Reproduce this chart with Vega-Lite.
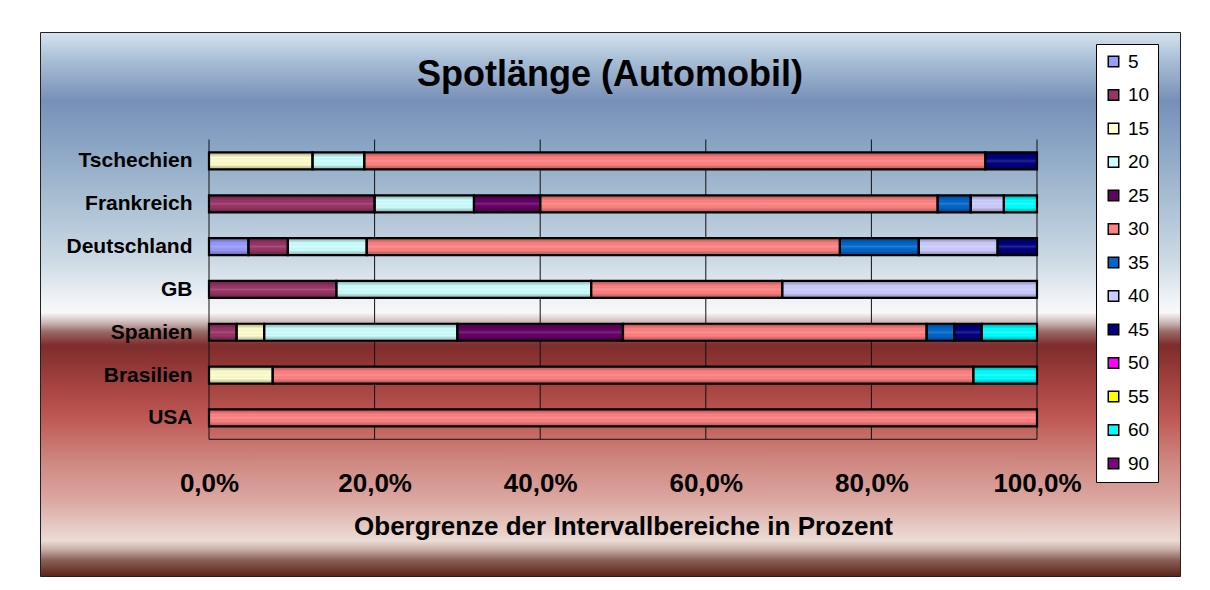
{
  "$schema": "https://vega.github.io/schema/vega-lite/v6.json",
  "width": 1140,
  "height": 544,
  "autosize": {"type": "none"},
  "padding": {"left": 40, "top": 32, "right": 30, "bottom": 14},
  "background": "white",
  "title": {"text": "Spotlänge (Automobil)", "anchor": "middle", "offset": -62, "fontSize": 36, "font": "Liberation Sans", "fontWeight": "bold", "color": "black"},
  "config": {
    "view": {
      "fill": {
        "gradient": "linear", "x1": 0, "y1": 0, "x2": 0, "y2": 1,
        "stops": [
          {"offset": 0, "color": "#d6e3ef"},
          {"offset": 0.05, "color": "#a9bfd6"},
          {"offset": 0.125, "color": "#7890b8"},
          {"offset": 0.2, "color": "#88a3c3"},
          {"offset": 0.31, "color": "#a9bfd3"},
          {"offset": 0.42, "color": "#cddae5"},
          {"offset": 0.49, "color": "#eef2f6"},
          {"offset": 0.515, "color": "#f8f8fa"},
          {"offset": 0.535, "color": "#c8b0b0"},
          {"offset": 0.55, "color": "#9a6a68"},
          {"offset": 0.575, "color": "#7e2c2c"},
          {"offset": 0.64, "color": "#a0403e"},
          {"offset": 0.713, "color": "#c05a56"},
          {"offset": 0.787, "color": "#cf8680"},
          {"offset": 0.86, "color": "#dca7a2"},
          {"offset": 0.934, "color": "#ebdcd5"},
          {"offset": 0.95, "color": "#c8b0a8"},
          {"offset": 0.97, "color": "#8a6058"},
          {"offset": 1, "color": "#5a2418"}
        ]
      },
      "stroke": "#222",
      "strokeWidth": 1
    },
    "axis": {"labelFont": "Liberation Sans", "titleFont": "Liberation Sans", "labelColor": "black", "titleColor": "black"}
  },
  "datasets": {
    "bars": [
      {"land": "Tschechien", "i": 0, "k": 15, "p": 12.5},
      {"land": "Tschechien", "i": 0, "k": 20, "p": 6.25},
      {"land": "Tschechien", "i": 0, "k": 30, "p": 75},
      {"land": "Tschechien", "i": 0, "k": 45, "p": 6.25},
      {"land": "Frankreich", "i": 1, "k": 10, "p": 20},
      {"land": "Frankreich", "i": 1, "k": 20, "p": 12},
      {"land": "Frankreich", "i": 1, "k": 25, "p": 8},
      {"land": "Frankreich", "i": 1, "k": 30, "p": 48},
      {"land": "Frankreich", "i": 1, "k": 35, "p": 4},
      {"land": "Frankreich", "i": 1, "k": 40, "p": 4},
      {"land": "Frankreich", "i": 1, "k": 60, "p": 4},
      {"land": "Deutschland", "i": 2, "k": 5, "p": 4.76},
      {"land": "Deutschland", "i": 2, "k": 10, "p": 4.76},
      {"land": "Deutschland", "i": 2, "k": 20, "p": 9.52},
      {"land": "Deutschland", "i": 2, "k": 30, "p": 57.14},
      {"land": "Deutschland", "i": 2, "k": 35, "p": 9.52},
      {"land": "Deutschland", "i": 2, "k": 40, "p": 9.52},
      {"land": "Deutschland", "i": 2, "k": 45, "p": 4.76},
      {"land": "GB", "i": 3, "k": 10, "p": 15.38},
      {"land": "GB", "i": 3, "k": 20, "p": 30.77},
      {"land": "GB", "i": 3, "k": 30, "p": 23.08},
      {"land": "GB", "i": 3, "k": 40, "p": 30.77},
      {"land": "Spanien", "i": 4, "k": 10, "p": 3.33},
      {"land": "Spanien", "i": 4, "k": 15, "p": 3.33},
      {"land": "Spanien", "i": 4, "k": 20, "p": 23.33},
      {"land": "Spanien", "i": 4, "k": 25, "p": 20},
      {"land": "Spanien", "i": 4, "k": 30, "p": 36.67},
      {"land": "Spanien", "i": 4, "k": 35, "p": 3.33},
      {"land": "Spanien", "i": 4, "k": 45, "p": 3.33},
      {"land": "Spanien", "i": 4, "k": 60, "p": 6.67},
      {"land": "Brasilien", "i": 5, "k": 15, "p": 7.69},
      {"land": "Brasilien", "i": 5, "k": 30, "p": 84.62},
      {"land": "Brasilien", "i": 5, "k": 60, "p": 7.69},
      {"land": "USA", "i": 6, "k": 30, "p": 100}
    ],
    "grid": [{"g": 0}, {"g": 0.2}, {"g": 0.4}, {"g": 0.6}, {"g": 0.8}, {"g": 1}]
  },
  "layer": [
    {
      "data": {"name": "grid"},
      "mark": {"type": "rule", "color": "#111", "strokeWidth": 1},
      "encoding": {
        "x": {"field": "g", "type": "quantitative", "scale": {"domain": [-0.20411, 1.17271], "nice": false, "zero": false}},
        "y": {"datum": -0.5, "type": "quantitative"},
        "y2": {"datum": 6.5}
      }
    },
    {
      "data": {"values": [{"a": 1}]},
      "mark": {"type": "rule", "color": "#111", "strokeWidth": 1},
      "encoding": {
        "x": {"datum": 0, "type": "quantitative"},
        "x2": {"datum": 1},
        "y": {"datum": 6.5, "type": "quantitative"}
      }
    },
    {
      "data": {"name": "bars"},
      "mark": {"type": "bar", "orient": "horizontal", "size": 17},
      "encoding": {
        "x": {
          "field": "p", "type": "quantitative", "stack": "normalize",
          "scale": {"domain": [-0.20411, 1.17271], "nice": false, "zero": false},
          "axis": {
            "values": [0, 0.2, 0.4, 0.6, 0.8, 1],
            "labelExpr": "replace(format(datum.value, '.1%'), '.', ',')",
            "offset": -135, "grid": false, "domain": false, "ticks": false, "tickSize": 0,
            "labelPadding": 29, "labelFontSize": 26, "labelFontWeight": "bold",
            "title": "Obergrenze der Intervallbereiche in Prozent",
            "titleFontSize": 26, "titleFontWeight": "bold", "titlePadding": 17, "titleX": 583
          }
        },
        "y": {
          "field": "i", "type": "quantitative",
          "scale": {"domain": [-2.895, 9.576], "reverse": true, "nice": false, "zero": false},
          "axis": {
            "values": [0, 1, 2, 3, 4, 5, 6],
            "labelExpr": "['Tschechien','Frankreich','Deutschland','GB','Spanien','Brasilien','USA'][datum.value]",
            "offset": -169, "grid": false, "domain": false, "ticks": false, "tickSize": 0,
            "labelPadding": 17, "labelFontSize": 21, "labelFontWeight": "bold", "title": null
          }
        },
        "color": {
          "field": "k", "type": "ordinal",
          "scale": {
            "domain": [5, 10, 15, 20, 25, 30, 35, 40, 45, 50, 55, 60, 90],
            "range": ["#9999FF", "#993366", "#FFFFCC", "#CCFFFF", "#660066", "#FF8080", "#0066CC", "#CCCCFF", "#000080", "#FF00FF", "#FFFF00", "#00FFFF", "#800080"]
          },
          "legend": {
            "orient": "none", "legendX": 1056, "legendY": 12, "direction": "vertical",
            "title": null, "symbolType": "square", "symbolSize": 110,
            "symbolStrokeColor": "black", "symbolStrokeWidth": 1.5, "symbolOpacity": 1,
            "labelFont": "Liberation Sans", "labelFontSize": 19, "labelColor": "black",
            "labelOffset": 5, "rowPadding": 13.5, "padding": 8,
            "fillColor": "white", "strokeColor": "black", "cornerRadius": 0
          }
        },
        "order": {"field": "k", "type": "quantitative"}
      }
    },
    {
      "data": {"name": "bars"},
      "mark": {
        "type": "bar", "orient": "horizontal", "size": 17, "stroke": "black", "strokeWidth": 2.2,
        "color": {
          "gradient": "linear", "x1": 0, "y1": 0, "x2": 0, "y2": 1,
          "stops": [
            {"offset": 0, "color": "rgba(0,0,0,0.35)"},
            {"offset": 0.3, "color": "rgba(0,0,0,0)"},
            {"offset": 0.5, "color": "rgba(255,255,255,0.15)"},
            {"offset": 0.7, "color": "rgba(0,0,0,0)"},
            {"offset": 1, "color": "rgba(0,0,0,0.35)"}
          ]
        }
      },
      "encoding": {
        "x": {"field": "p", "type": "quantitative", "stack": "normalize"},
        "y": {"field": "i", "type": "quantitative"},
        "detail": {"field": "k", "type": "quantitative"},
        "order": {"field": "k", "type": "quantitative"}
      }
    }
  ]
}
